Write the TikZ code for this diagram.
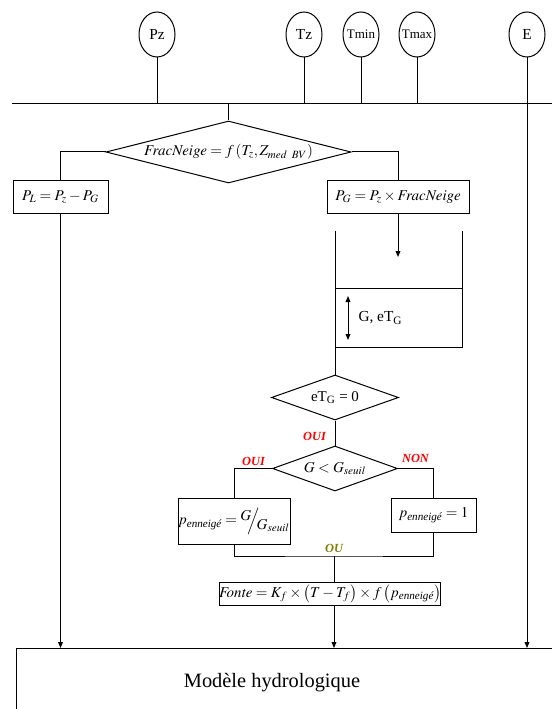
\documentclass[tikz,border=0pt]{standalone}
\usepackage{amsmath}
\usepackage{mathptmx}
\usepackage[no-math]{fontspec}
\setmainfont{Liberation Serif}
\usetikzlibrary{shapes.geometric,arrows.meta}

\definecolor{ouirouge}{RGB}{255,0,0}
\definecolor{ouolive}{RGB}{128,128,0}

\tikzset{
  entree/.style={draw, ellipse, inner sep=-5pt, minimum width=27pt, minimum height=33.75pt, font=\fontsize{11.5}{13}\selectfont},
  test/.style={draw, diamond, inner sep=0pt},
  calcul/.style={draw, rectangle, inner sep=0pt, font=\fontsize{11.25}{13}\selectfont},
  reponse/.style={inner sep=0.5pt, text=ouirouge, font=\fontsize{9.3}{11}\selectfont\bfseries\itshape},
  fleche/.style={-{Triangle[length=4.5pt,width=3.6pt]}},
  every label/.style={inner sep=0pt, font=\fontsize{11.25}{13}\selectfont},
}

\begin{document}
\begin{tikzpicture}[x=0.75pt,y=0.75pt,yscale=-1,xscale=1, line width=0.75pt]
            \useasboundingbox (0,0) rectangle (552,709);
            
            %Shape: Ellipse (entrees)
            \node (pz) at (157,34.5) [entree] {Pz};
            \node (tz) at (304,34.5) [entree] {Tz};
            \node (tmin) at (361,34.5) [entree, font=\fontsize{9.75}{11}\selectfont] {Tmin};
            \node (tmax) at (417,34.5) [entree, font=\fontsize{9.75}{11}\selectfont] {Tmax};
            \node (e) at (527,34.5) [entree] {E};
            
            %Straight Lines: bus des entrees
            \coordinate (busg) at (12,104);
            \coordinate (busd) at (552,104);
            \coordinate (mtop) at (16,648);
            \draw (busg) -- (busd);
            \draw (pz) -- (pz |- busg);
            \draw (tz) -- (tz |- busg);
            \draw (tmin) -- (tmin |- busg);
            \draw (tmax) -- (tmax |- busg);
            \draw [fleche] (e) -- (e |- mtop);
            
            %Shape: Diamond
            \node (frac) at (228.5,152) [test, minimum width=183.75pt, minimum height=46.5pt,
              label={center:$\mathit{FracNeige} = f\left(T_z, Z_{med\;\;BV}\right)$}] {};
            \draw (busg -| frac) -- (frac.north);
            
            %Shape: Rectangle
            \node (pl) at (60.5,197) [calcul, minimum width=71.25pt, minimum height=24pt] {$P_L = P_z - P_G$};
            \node (pg) at (398,197) [calcul, minimum width=106.5pt, minimum height=24pt] {$P_G = P_z \times \mathit{FracNeige}$};
            \draw (frac.west) -| (pl.north);
            \draw (frac.east) -| (pg.north);
            
            %Shape: Reservoir
            \coordinate (entstock) at (398,257);
            \draw [fleche] (pg.south) -- (entstock);
            \coordinate (bacg) at (335,231);
            \coordinate (bacd) at (462,231);
            \node (stock) at (398.5,318) [inner sep=0pt, minimum width=95.25pt, minimum height=43.5pt] {};
            \draw (bacg) -- (bacg |- stock.south) -- (bacd |- stock.south) -- (bacd);
            \draw (bacg |- stock.north) -- (bacd |- stock.north);
            \coordinate (nivh) at (348,296);
            \coordinate (nivb) at (348,340);
            \draw [{Triangle[length=4.5pt,width=3.6pt]}-{Triangle[length=4.5pt,width=3.6pt]}] (nivh) -- (nivb);
            % Text Node
            \node (niveau) at (358,318) [anchor=west, inner sep=0pt, font=\fontsize{11.5}{13}\selectfont] {G, eT\textsubscript{G}};
            
            %Shape: Diamond
            \node (etg) at (335,397.5) [test, minimum width=95.25pt, minimum height=33.75pt,
              label={center:eT\textsubscript{G} = 0}] {};
            \draw (bacg |- stock.south) -- (etg.north);
            \node (seuil) at (335,468.5) [test, minimum width=93.75pt, minimum height=33.75pt,
              label={center:$G < G_{seuil}$}] {};
            \draw (etg.south) -- (seuil.north);
            % Text Node
            \node (oui1) at (327,436) [reponse, anchor=east] {OUI};
            \node (oui2) at (253.5,461) [reponse] {OUI};
            \node (non) at (415.5,458) [reponse] {NON};
            
            %Shape: Rectangle
            \node (pfrac) at (234,521) [calcul, minimum width=84pt, minimum height=34.5pt]
              {$p_{\text{\itshape enneigé}} = \raisebox{3.5pt}{$G$}\!\!\Big/\!\!\raisebox{-3.5pt}{$G_{seuil}$}$};
            \node (pone) at (433.5,515) [calcul, minimum width=63.75pt, minimum height=25.5pt]
              {$p_{\text{\itshape enneigé}} = 1$};
            \draw (seuil.west) -| (pfrac.north);
            \draw (seuil.east) -| (pone.north);
            
            \coordinate (jonction) at (334,556);
            \draw (pfrac.south) |- (jonction) -| (pone.south);
            % Text Node
            \node (ou) at (334,548) [reponse, text=ouolive] {OU};
            
            \node (fonte) at (330,593.5) [calcul, minimum width=162pt, minimum height=17.25pt]
              {$\mathit{Fonte} = K_f \times \left(T - T_f\right) \times f\left(p_{\text{\itshape enneigé}}\right)$};
            \draw (jonction) -- (jonction |- fonte.north);
            \draw [fleche] (jonction |- fonte.south) -- (jonction |- mtop);
            \draw [fleche] (pl.south) -- (pl |- mtop);
            
            %Shape: Modele
            \draw (552,648) -| (16,709);
            % Text Node
            \node (modele) at (272,683) [font=\fontsize{15.3}{18}\selectfont] {Modèle hydrologique};
            
\end{tikzpicture}
\end{document}
